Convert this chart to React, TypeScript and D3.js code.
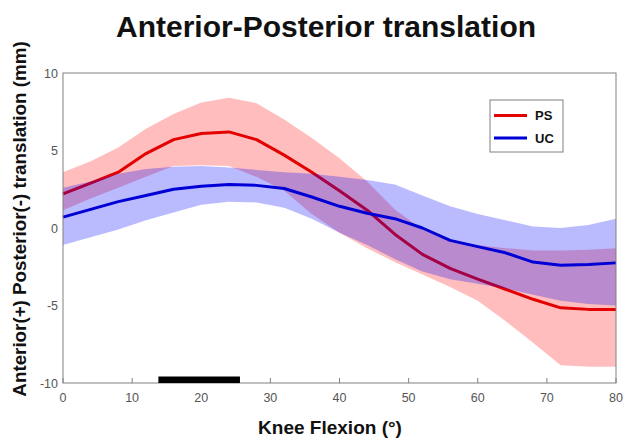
import React from "react";
import * as d3 from "d3";

const flexion = [0, 4, 8, 12, 16, 20, 24, 28, 32, 36, 40, 44, 48, 52, 56, 60, 64, 68, 72, 76, 80];

const psMean = [2.2, 2.9, 3.6, 4.8, 5.7, 6.1, 6.2, 5.7, 4.7, 3.6, 2.4, 1.15, -0.4, -1.7, -2.6, -3.3, -3.95, -4.6, -5.15, -5.25, -5.25];
const psUpper = [3.6, 4.3, 5.2, 6.4, 7.35, 8.1, 8.4, 8.05, 7.0, 5.8, 4.5, 3.0, 1.2, -0.1, -0.8, -1.1, -1.3, -1.45, -1.45, -1.4, -1.3];
const psLower = [1.15, 1.9, 2.6, 3.3, 4.0, 4.05, 4.0, 3.3, 2.4, 0.9, -0.3, -1.3, -2.2, -3.0, -3.8, -4.7, -6.0, -7.4, -8.85, -8.95, -8.95];

const ucMean = [0.7, 1.2, 1.7, 2.1, 2.5, 2.7, 2.8, 2.75, 2.55, 2.0, 1.4, 0.95, 0.6, 0.0, -0.8, -1.2, -1.6, -2.2, -2.4, -2.35, -2.25];
const ucUpper = [2.6, 3.0, 3.5, 3.8, 3.95, 4.0, 3.9, 3.75, 3.6, 3.5, 3.3, 3.1, 2.8, 2.1, 1.4, 0.9, 0.5, 0.1, 0.0, 0.2, 0.6];
const ucLower = [-1.1, -0.6, -0.1, 0.5, 1.0, 1.5, 1.7, 1.65, 1.3, 0.6, -0.3, -1.1, -2.0, -2.8, -3.3, -3.6, -3.9, -4.3, -4.7, -4.9, -5.0];

const xTicks = [0, 10, 20, 30, 40, 50, 60, 70, 80];
const yTicks = [-10, -5, 0, 5, 10];
const sigRange = [13.8, 25.6];

const seriesNames = ["PS", "UC"];
const title = "Anterior-Posterior translation";
const xLabel = "Knee Flexion (°)";
const yLabel = "Anterior(+) Posterior(-) translation (mm)";

export default function App() {
  const W = 623, H = 438;
  const left = 63, right = 616, top = 73, bottom = 383;
  const x = d3.scaleLinear().domain([0, 80]).range([left, right]);
  const y = d3.scaleLinear().domain([-10, 10]).range([bottom, top]);

  const band = (up: number[], lo: number[]) =>
    d3.area<number>()
      .x((_, i) => x(flexion[i]))
      .y0((_, i) => y(lo[i]))
      .y1((_, i) => y(up[i]))(flexion) as string;
  const line = (m: number[]) =>
    d3.line<number>()
      .x((_, i) => x(flexion[i]))
      .y((_, i) => y(m[i]))(flexion) as string;

  const red = "#e30000";
  const blue = "#0000d6";
  const font = "'Liberation Sans', Arial, sans-serif";

  return (
    <svg width={W} height={H} style={{ position: "absolute", left: 0, top: 0, background: "#fff" }} fontFamily={font}>
      <rect x={0} y={0} width={W} height={H} fill="#fff" />
      <text x={326} y={37} textAnchor="middle" fontWeight="bold" fontSize={30} fill="#111">{title}</text>

      <rect x={left} y={top} width={right - left} height={bottom - top} fill="#fff" />
      <path d={band(psUpper, psLower)} fill="rgb(255,0,0)" fillOpacity={0.26} />
      <path d={line(psMean)} fill="none" stroke={red} strokeWidth={3} strokeLinejoin="round" />
      <path d={band(ucUpper, ucLower)} fill="rgb(0,0,255)" fillOpacity={0.27} />
      <path d={line(ucMean)} fill="none" stroke={blue} strokeWidth={3} strokeLinejoin="round" />

      <rect x={left} y={top} width={right - left} height={bottom - top} fill="none" stroke="#808080" strokeWidth={1} />
      {xTicks.map((t) => (
        <g key={"x" + t}>
          <line x1={x(t)} x2={x(t)} y1={bottom} y2={bottom - 5} stroke="#808080" strokeWidth={1} />
          <text x={x(t)} y={402} textAnchor="middle" fontSize={12.5} fill="#555">{t}</text>
        </g>
      ))}
      {yTicks.map((t) => (
        <text key={"y" + t} x={58} y={y(t) + 4.5} textAnchor="end" fontSize={12.5} fill="#555">{t}</text>
      ))}

      <rect x={x(sigRange[0])} y={bottom - 6.5} width={x(sigRange[1]) - x(sigRange[0])} height={6.5} fill="#000" />

      <text x={330} y={434} textAnchor="middle" fontWeight="bold" fontSize={19} fill="#111">{xLabel}</text>
      <text transform={`translate(26, 219) rotate(-90)`} textAnchor="middle" fontWeight="bold" fontSize={18.8} fill="#111">{yLabel}</text>

      <g>
        <rect x={490} y={100} width={73} height={52} fill="#fff" stroke="#808080" strokeWidth={1} />
        <line x1={494} x2={527} y1={115.5} y2={115.5} stroke={red} strokeWidth={3} />
        <text x={535} y={120} fontWeight="bold" fontSize={13} fill="#111">{seriesNames[0]}</text>
        <line x1={494} x2={527} y1={138} y2={138} stroke={blue} strokeWidth={3} />
        <text x={535} y={143} fontWeight="bold" fontSize={13} fill="#111">{seriesNames[1]}</text>
      </g>
    </svg>
  );
}
